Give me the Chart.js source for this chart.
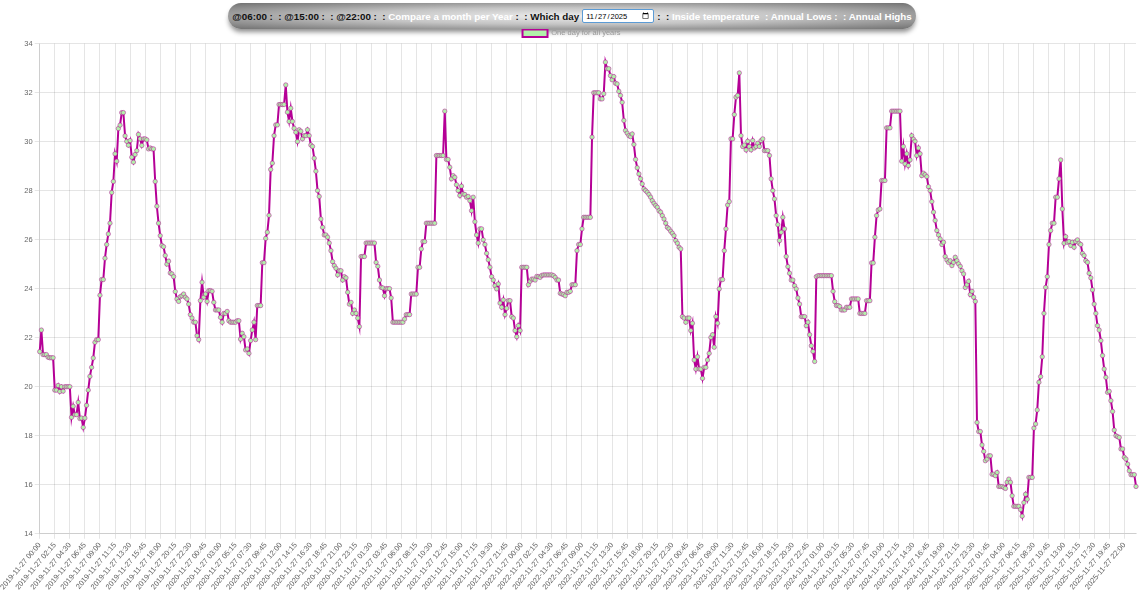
<!DOCTYPE html>
<html>
<head>
<meta charset="utf-8">
<script src="https://cdn.jsdelivr.net/npm/chart.js@4.4.1/dist/chart.umd.min.js"></script>
<style>
    html, body { margin: 0; padding: 0; background: #fff; }
    body { width: 1143px; height: 600px; position: relative; overflow: hidden; font-family: "Liberation Sans", Arial, sans-serif; }
    #menu {
        position: absolute; left: 228px; top: 3px; width: 688px; height: 26px;
        border-radius: 13px;
        background: radial-gradient(ellipse at center, #ececec 0%, #c4c4c4 45%, #707070 100%);
        box-shadow: 0 4px 5px -1px rgba(0, 0, 0, 0.45);
        z-index: 2; display: flex; align-items: center; justify-content: center;
        font-weight: bold; font-size: 9.8px; white-space: nowrap; color: #111;
    }
    #menu .w { color: #fff; }
    #menu input {
        font: 7.5px "Liberation Sans", Arial, sans-serif; width: 66px; height: 12px;
        margin: 0 3px; padding: 0 2px; border: 1px solid #5b9bd5; border-radius: 2px;
    }
    #wrap { position: absolute; left: 0; top: 28.5px; width: 1143px; height: 571.5px; z-index: 3; }
</style>
</head>
<body>
<div id="menu">
    <span>@06:00 :&nbsp; :&nbsp;@15:00 :&nbsp; :&nbsp;@22:00 :&nbsp; :&nbsp;</span><span class="w">Compare a month per Year</span><span>&nbsp;:&nbsp; :&nbsp;Which day</span>
    <input type="date" value="2025-11-27">
    <span>:&nbsp; :&nbsp;</span><span class="w">Inside temperature&nbsp; : Annual Lows :&nbsp; : Annual Highs</span>
</div>
<div id="wrap"><canvas id="chart"></canvas></div>
<script>
    const years = [2019, 2020, 2021, 2022, 2023, 2024, 2025];
    // quarter hours that have no reading in 2023
    const missing2023 = ['01:00', '01:15', '01:30', '01:45', '02:00', '02:15', '02:30', '02:45', '03:00',
        '03:15', '03:30', '03:45', '04:00', '04:15', '04:30', '10:00'];

    const t2019 = [21.43, 22.31, 21.31, 21.31, 21.31, 21.2, 21.18, 21.18, 21.18, 19.86,
        19.86, 20.05, 19.8, 20.0, 19.82, 20.0, 20.0, 20.0, 20.0, 18.75,
        19.2, 18.86, 18.86, 19.36, 18.7, 18.72, 18.34, 18.72, 19.24, 19.86,
        20.42, 20.79, 21.17, 21.81, 21.92, 21.92, 23.73, 24.37, 24.37, 25.24,
        25.8, 26.23, 26.67, 27.92, 28.37, 29.5, 29.2, 30.53, 30.67, 31.18,
        31.18, 30.23, 30.01, 29.85, 30.04, 29.36, 29.16, 29.47, 29.63, 30.29,
        30.11, 29.84, 30.11, 30.11, 30.07, 29.7, 29.74, 29.7, 29.7, 28.37,
        27.36, 26.67, 26.16, 25.76, 25.71, 25.35, 25.0, 25.12, 24.64, 24.6,
        24.49, 23.88, 23.58, 23.48, 23.67, 23.71, 23.78, 23.65, 23.58, 23.37,
        22.94, 22.8, 22.63, 22.63, 22.08, 21.92];
    const t2020 = [23.51, 24.26, 23.65, 23.78, 23.48, 23.92, 23.92, 23.89, 23.44, 23.13,
        23.13, 23.13, 22.83, 22.63, 22.99, 22.99, 23.07, 22.69, 22.63, 22.63,
        22.63, 22.63, 22.69, 22.69, 21.94, 22.18, 22.04, 21.5, 21.54, 21.36,
        21.88, 22.31, 22.63, 21.92, 23.31, 23.31, 23.31, 25.06, 25.06, 26.05,
        26.3, 26.99, 28.86, 29.12, 30.24, 30.68, 30.68, 31.51, 31.51, 31.51,
        31.51, 32.31, 31.2, 30.82, 31.36, 30.82, 30.54, 30.38, 30.0, 30.48,
        30.42, 30.11, 30.24, 30.24, 30.48, 30.24, 29.86, 29.8, 29.32, 28.79,
        28.0, 27.76, 26.84, 26.5, 26.19, 26.19, 26.1, 25.86, 25.55, 25.1,
        24.94, 24.83, 24.56, 24.73, 24.73, 24.35, 24.49, 24.44, 23.85, 23.37,
        23.44, 22.99, 23.13, 22.99, 22.8, 22.45];
    const t2021 = [25.31, 25.31, 25.31, 25.86, 25.86, 25.86, 25.86, 25.86, 25.86, 25.07,
        24.91, 24.35, 24.05, 24.03, 23.71, 24.0, 24.0, 24.0, 23.62, 22.63,
        22.63, 22.63, 22.63, 22.63, 22.63, 22.63, 22.76, 22.94, 22.94, 22.94,
        23.78, 23.78, 23.78, 23.78, 24.87, 24.87, 25.62, 25.92, 25.92, 26.67,
        26.67, 26.67, 26.67, 26.67, 26.67, 29.43, 29.43, 29.43, 29.43, 29.43,
        31.24, 29.27, 29.27, 28.95, 28.48, 28.61, 28.54, 28.24, 28.0, 27.8,
        28.18, 27.86, 27.84, 27.73, 27.76, 27.59, 27.18, 27.73, 26.73, 26.19,
        25.86, 26.44, 26.44, 25.99, 25.8, 25.44, 25.18, 24.87, 24.49, 24.35,
        24.12, 23.99, 24.19, 23.41, 23.24, 23.54, 22.94, 23.2, 23.51, 23.51,
        22.86, 22.8, 22.29, 22.04, 22.49, 22.29];
    const t2022 = [24.87, 24.87, 24.87, 24.87, 24.16, 24.3, 24.39, 24.39, 24.35, 24.5,
        24.49, 24.46, 24.54, 24.56, 24.56, 24.56, 24.56, 24.56, 24.56, 24.53,
        24.46, 24.35, 24.35, 23.81, 23.78, 23.76, 23.71, 23.85, 23.85, 23.89,
        24.16, 24.16, 24.16, 25.55, 25.8, 25.8, 26.44, 26.91, 26.91, 26.91,
        26.91, 26.91, 30.18, 31.99, 31.99, 31.99, 31.99, 31.74, 31.74, 31.95,
        33.24, 32.97, 32.97, 32.69, 32.52, 32.65, 32.38, 32.35, 32.05, 31.88,
        31.6, 30.86, 30.45, 30.34, 30.24, 30.2, 30.31, 29.88, 29.27, 28.93,
        28.68, 28.48, 28.27, 28.07, 28.0, 27.93, 27.84, 27.73, 27.59, 27.48,
        27.39, 27.32, 27.18, 27.12, 26.98, 26.84, 26.67, 26.5, 26.44, 26.34,
        26.26, 26.16, 25.96, 25.85, 25.69, 25.62];
    const t2023 = [22.86, 22.8, 22.63, 22.8, 22.8, 22.29, 22.59, 21.09, 20.72, 21.22,
        20.72, 20.72, 20.34, 20.79, 20.79, 21.09, 21.36, 22.01, 22.12, 21.61,
        22.86, 22.59, 23.99, 24.37, 24.37, 25.55, 26.44, 27.41, 27.55, 30.11,
        30.11, 31.1, 31.81, 31.88, 32.8, 30.24, 29.8, 29.86, 29.66, 30.01,
        29.8, 29.66, 30.04, 29.74, 29.8, 29.93, 29.8, 30.04, 30.11, 29.63,
        29.63, 29.63, 29.43, 28.48, 28.0, 27.66, 26.98, 26.61, 25.96, 26.3,
        26.91, 26.44, 25.31, 24.9, 24.63, 24.35, 24.35, 24.12, 23.99, 23.62,
        23.37, 22.86, 22.86, 22.86, 22.49, 22.63, 22.12, 21.67, 21.44, 21.03];
    const t2024 = [24.49, 24.53, 24.53, 24.53, 24.53, 24.53, 24.53, 24.53, 24.53, 24.53,
        23.89, 23.47, 23.31, 23.31, 23.27, 23.13, 23.13, 23.13, 23.24, 23.24,
        23.24, 23.58, 23.58, 23.58, 23.58, 23.58, 22.99, 22.99, 22.99, 22.99,
        23.51, 23.51, 23.51, 25.05, 25.05, 26.1, 26.98, 27.21, 27.25, 28.41,
        28.41, 28.41, 30.56, 30.56, 30.56, 31.24, 31.24, 31.24, 31.24, 31.24,
        31.24, 29.2, 29.8, 29.09, 29.5, 29.02, 29.25, 30.24, 30.1, 30.01,
        29.43, 29.74, 29.5, 28.61, 28.71, 28.65, 28.57, 28.16, 28.0, 27.55,
        27.12, 26.78, 26.37, 26.19, 26.03, 25.8, 25.89, 25.31, 25.17, 25.07,
        25.14, 24.94, 25.07, 25.28, 25.14, 25.01, 24.91, 24.73, 24.6, 24.05,
        24.16, 24.3, 23.76, 23.89, 23.65, 23.48];
    const t2025 = [18.54, 18.17, 18.17, 17.62, 17.36, 16.98, 17.05, 17.18, 17.18, 16.43,
        16.43, 16.37, 16.5, 15.93, 15.93, 15.93, 15.89, 15.85, 16.1, 16.23,
        16.1, 15.55, 15.12, 15.12, 15.12, 15.12, 14.99, 14.72, 15.27, 15.61,
        15.41, 16.3, 16.3, 16.3, 18.31, 18.48, 19.05, 20.18, 20.41, 21.22,
        22.99, 24.05, 24.49, 25.8, 26.37, 26.67, 26.67, 27.73, 27.73, 28.48,
        29.25, 27.25, 25.85, 26.12, 25.89, 25.92, 25.76, 25.89, 25.69, 25.92,
        25.99, 25.85, 25.8, 25.44, 25.35, 25.14, 25.07, 24.63, 24.44, 23.95,
        23.37, 22.99, 22.49, 22.31, 21.88, 21.27, 20.72, 20.38, 19.77, 19.81,
        19.43, 18.99, 18.23, 18.0, 17.96, 17.93, 17.46, 17.46, 17.12, 17.05,
        16.84, 16.57, 16.41, 16.41, 16.41, 15.93];
    const yTicks = { min: 14, max: 34, step: 2 };
    const labelEvery = 9;

    const pad = (n) => String(n).padStart(2, '0');
    const labels = [];
    years.forEach((y) => {
        for (let q = 0; q < 96; q++) {
            const hm = `${pad(Math.floor(q / 4))}:${pad((q % 4) * 15)}`;
            if (y === 2023 && missing2023.includes(hm)) continue;
            labels.push(`${y}-11-27 ${hm}`);
        }
    });
    const values = [...t2019, ...t2020, ...t2021, ...t2022, ...t2023, ...t2024, ...t2025];

    const magenta = 'rgb(181, 0, 150)';
    const mint = 'rgb(178, 240, 170)';
    const small = { family: "'Helvetica Neue', Helvetica, Arial, sans-serif", size: 7.5 };

    new Chart(document.getElementById('chart'), {
        type: 'line',
        data: {
            labels,
            datasets: [{
                label: 'One day for all years',
                data: values,
                borderColor: magenta,
                backgroundColor: mint,
                borderWidth: 2,
                pointRadius: 2.2,
                pointBorderWidth: 0.8,
                pointBorderColor: 'rgba(181, 0, 150, 0.6)',
                tension: 0,
                fill: false
            }]
        },
        options: {
            responsive: true,
            maintainAspectRatio: false,
            animation: false,
            layout: { padding: { left: 7, right: 7, top: 0, bottom: 7 } },
            plugins: {
                legend: {
                    maxHeight: 14.5,
                    labels: { boxWidth: 25, boxHeight: 7.5, padding: 0.5, color: '#999', font: small }
                },
                tooltip: { enabled: false }
            },
            scales: {
                x: {
                    afterBuildTicks: (axis) => {
                        axis.ticks = axis.ticks.filter((t) => t.value % labelEvery === 0);
                    },
                    ticks: { autoSkip: false, maxRotation: 50, minRotation: 50, padding: 2, color: '#666', font: small },
                    grid: { tickLength: 5, color: 'rgba(0,0,0,0.1)' }
                },
                y: {
                    min: yTicks.min,
                    max: yTicks.max,
                    ticks: { stepSize: yTicks.step, padding: 2, color: '#666', font: small },
                    grid: { tickLength: 5, color: 'rgba(0,0,0,0.1)' }
                }
            }
        }
    });
</script>
</body>
</html>
